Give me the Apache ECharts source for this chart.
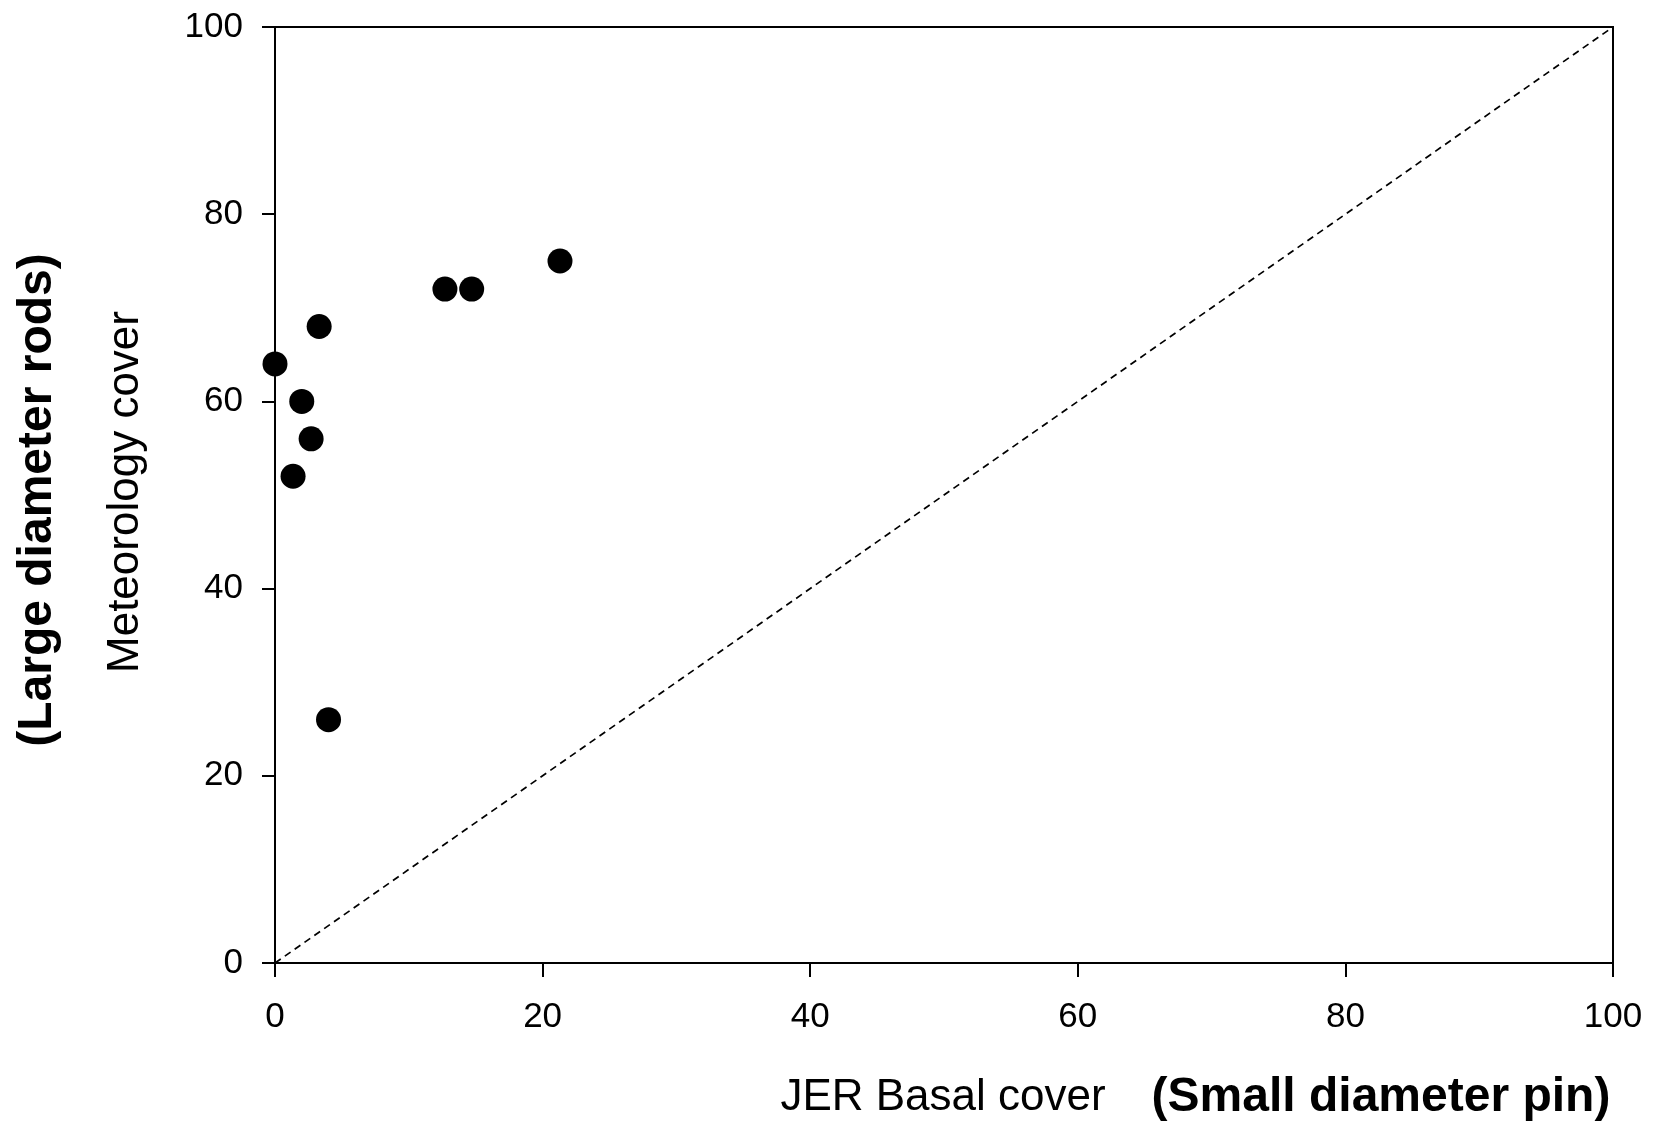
<!DOCTYPE html>
<html>
<head>
<meta charset="utf-8">
<script src="https://cdn.jsdelivr.net/npm/echarts@6/dist/echarts.min.js"></script>
<style>
html,body{margin:0;padding:0;background:#fff;}
#chart{width:1653px;height:1125px;}
</style>
</head>
<body>
<div id="chart"></div>
<script>
// Data
const jerBasalCover = [21.3, 12.7, 14.7, 3.3, 0.0, 2.0, 2.7, 1.35, 4.0];
const meteorologyCover = [75, 72, 72, 68, 64, 60, 56, 52, 26];
const oneToOneLine = [[0, 0], [100, 100]];
const xTicks = [0, 20, 40, 60, 80, 100];
const yTicks = [0, 20, 40, 60, 80, 100];

const points = jerBasalCover.map((x, i) => [x, meteorologyCover[i]]);
const FONT = '"Liberation Sans", Arial, sans-serif';

const chart = echarts.init(document.getElementById('chart'), null, {renderer: 'canvas'});
chart.setOption({
  animation: false,
  backgroundColor: '#fff',
  grid: {left: 275, top: 27, width: 1338, height: 936, show: true, borderColor: '#000', borderWidth: 2, backgroundColor: 'transparent'},
  xAxis: {
    type: 'value', min: xTicks[0], max: xTicks[xTicks.length - 1], interval: 20,
    axisLine: {show: true, onZero: false, lineStyle: {color: '#000', width: 2}},
    axisTick: {show: true, inside: false, length: 14, lineStyle: {color: '#000', width: 2}},
    axisLabel: {color: '#000', fontSize: 35, fontFamily: FONT, margin: 37},
    splitLine: {show: false}
  },
  yAxis: {
    type: 'value', min: yTicks[0], max: yTicks[yTicks.length - 1], interval: 20,
    axisLine: {show: true, onZero: false, lineStyle: {color: '#000', width: 2}},
    axisTick: {show: true, inside: false, length: 13, lineStyle: {color: '#000', width: 2}},
    axisLabel: {color: '#000', fontSize: 35, fontFamily: FONT, margin: 32},
    splitLine: {show: false}
  },
  series: [
    {
      type: 'line', data: oneToOneLine, symbol: 'none', silent: true,
      lineStyle: {color: '#000', width: 1.7, type: [7, 5]}, z: 1
    },
    {
      type: 'scatter', data: points, symbol: 'circle', symbolSize: 25,
      itemStyle: {color: '#000', opacity: 1}, z: 3
    }
  ],
  graphic: [
    {type: 'text', x: 943, y: 1098, style: {text: 'JER Basal cover', font: '44px ' + FONT, fill: '#000', align: 'center', verticalAlign: 'middle'}},
    {type: 'text', x: 1381, y: 1098, style: {text: '(Small diameter pin)', font: 'bold 48px ' + FONT, fill: '#000', align: 'center', verticalAlign: 'middle'}},
    {type: 'text', x: 38, y: 500, rotation: Math.PI / 2, style: {text: '(Large diameter rods)', font: 'bold 48px ' + FONT, fill: '#000', align: 'center', verticalAlign: 'middle'}},
    {type: 'text', x: 126, y: 492, rotation: Math.PI / 2, style: {text: 'Meteorology cover', font: '44px ' + FONT, fill: '#000', align: 'center', verticalAlign: 'middle'}}
  ]
});
</script>
</body>
</html>
